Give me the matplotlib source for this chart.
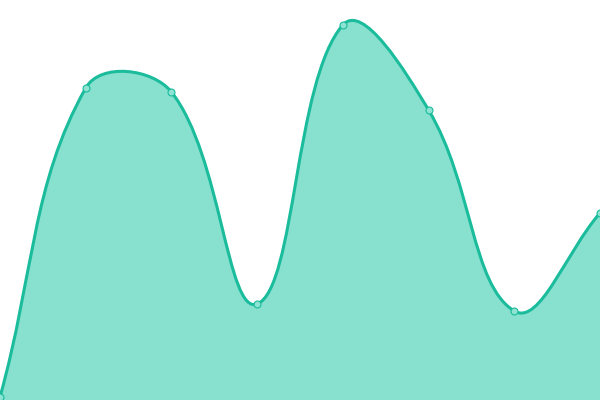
import numpy as np
import matplotlib
matplotlib.use('Agg')
import matplotlib.pyplot as plt
from matplotlib.path import Path
from matplotlib.patches import PathPatch

# === DATA ===
labels = ['1', '2', '3', '4', '5', '6', '7', '8']
values = [3, 312, 308, 96, 375, 290, 89, 187]

LINE = '#1abc9c'
FILL = '#88e0cf'
TENSION = 0.4


# === SMOOTH CURVE CONTROL POINTS (tension-style bezier) ===
def control_points(xs, ys, t=TENSION):
    pts = np.column_stack([xs, ys]).astype(float)
    n = len(pts)
    cps = []
    for i in range(n):
        prev = pts[max(i - 1, 0)]
        cur = pts[i]
        nxt = pts[min(i + 1, n - 1)]
        d01 = np.hypot(*(cur - prev))
        d12 = np.hypot(*(nxt - cur))
        tot = d01 + d12
        s01 = d01 / tot if tot else 0
        s12 = d12 / tot if tot else 0
        fa = t * s01
        fb = t * s12
        before = cur - fa * (nxt - prev)
        after = cur + fb * (nxt - prev)
        cps.append((before, after))
    return pts, cps


fig = plt.figure(figsize=(6, 4), dpi=100)
ax = fig.add_axes([0, 0, 1, 1])
ax.set_xlim(0, 600)
ax.set_ylim(0, 400)
ax.axis('off')

xs = np.arange(len(values)) * 600 / (len(values) - 1)
pts, cps = control_points(xs, values)

verts = [tuple(pts[0])]
codes = [Path.MOVETO]
for i in range(1, len(pts)):
    verts += [tuple(cps[i - 1][1]), tuple(cps[i][0]), tuple(pts[i])]
    codes += [Path.CURVE4] * 3

# filled area down to baseline
fill_verts = verts + [(pts[-1][0], 0), (pts[0][0], 0), tuple(pts[0])]
fill_codes = codes + [Path.LINETO, Path.LINETO, Path.CLOSEPOLY]
ax.add_patch(PathPatch(Path(fill_verts, fill_codes), facecolor=FILL, edgecolor='none'))

# line on top
ax.add_patch(PathPatch(Path(verts, codes), facecolor='none', edgecolor=LINE, linewidth=2.2))

ax.plot(xs, values, 'o', markersize=5, markerfacecolor='#8fe3d3',
        markeredgecolor=LINE, markeredgewidth=0.8, clip_on=False)

fig.savefig('out.png', dpi=100)
